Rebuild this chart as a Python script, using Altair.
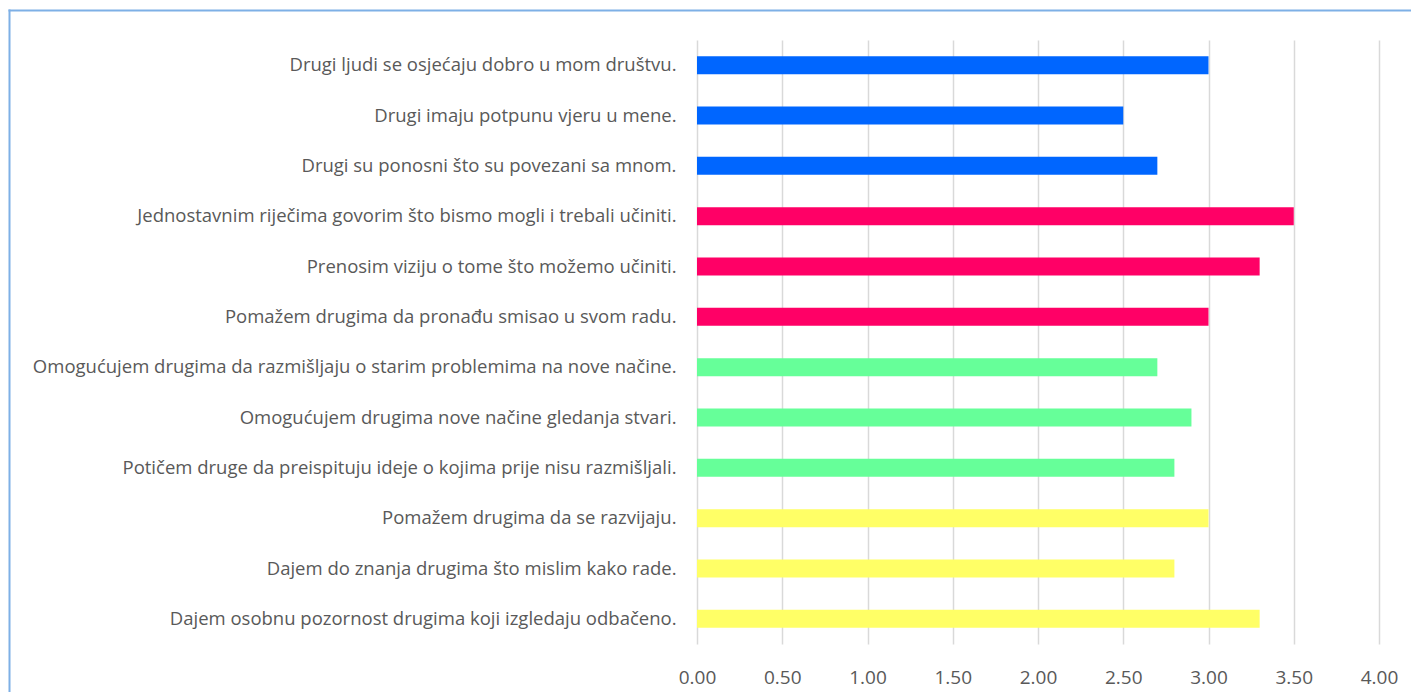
import altair as alt
import pandas as pd

statements = [
    "Drugi ljudi se osjećaju  dobro u mom društvu.",
    "Drugi imaju potpunu vjeru u mene.",
    "Drugi su ponosni što su povezani sa mnom.",
    "Jednostavnim riječima govorim što bismo mogli i trebali  učiniti.",
    "Prenosim viziju o tome što možemo učiniti.",
    "Pomažem drugima da pronađu smisao u svom radu.",
    "Omogućujem drugima da razmišljaju  o starim problemima na nove načine.",
    "Omogućujem drugima nove načine gledanja stvari.",
    "Potičem druge da preispituju ideje o kojima prije nisu razmišljali.",
    "Pomažem drugima da se razvijaju.",
    "Dajem do znanja drugima što mislim kako rade.",
    "Dajem osobnu pozornost drugima koji izgledaju odbačeno.",
]
values = [3.0, 2.5, 2.7, 3.5, 3.3, 3.0, 2.7, 2.9, 2.8, 3.0, 2.8, 3.3]
groups = ["A", "A", "A", "B", "B", "B", "C", "C", "C", "D", "D", "D"]
group_names = ["A", "B", "C", "D"]
group_colors = ["#0066FF", "#FF0066", "#66FF99", "#FFFF66"]

df = pd.DataFrame({"statement": statements, "value": values, "group": groups})

FONT = "Open Sans"
TXT = "#595959"
BORDER = "#7EB0E6"

bars = alt.Chart(df).mark_bar(size=18).encode(
    x=alt.X(
        "value:Q",
        scale=alt.Scale(domain=[0, 4]),
        axis=alt.Axis(
            values=[0, 0.5, 1, 1.5, 2, 2.5, 3, 3.5, 4],
            format=".2f",
            title=None,
            grid=True,
            gridColor="#D9D9D9",
            gridWidth=1.5,
            domain=False,
            ticks=False,
            labelFlush=False,
            labelFont=FONT,
            labelFontSize=19,
            labelColor=TXT,
            labelPadding=24,
        ),
    ),
    y=alt.Y(
        "statement:N",
        sort=statements,
        scale=alt.Scale(paddingInner=0.64, paddingOuter=0.32),
        axis=alt.Axis(
            title=None,
            domain=False,
            ticks=False,
            grid=False,
            labelFont=FONT,
            labelFontSize=18.5,
            labelColor=TXT,
            labelPadding=21,
            labelLimit=800,
        ),
    ),
    color=alt.Color(
        "group:N",
        scale=alt.Scale(domain=group_names, range=group_colors),
        legend=None,
    ),
)

one = alt.Data(values=[{"a": 1}])
border_top = alt.Chart(one).mark_rule(color=BORDER, strokeWidth=2).encode(
    x=alt.value(-688.5),
    x2=alt.value(2000),
    y=alt.value(-29.5),
)
border_left = alt.Chart(one).mark_rule(color=BORDER, strokeWidth=2).encode(
    x=alt.value(-687.5),
    y=alt.value(-30.5),
    y2=alt.value(2000),
)

chart = alt.layer(border_top, border_left, bars).properties(
    width=682,
    height=604,
    autosize=alt.AutoSizeParams(type="none"),
    padding={"left": 689, "top": 32, "right": 32, "bottom": 48},
    background="white",
).configure_view(stroke=None)

chart.save("out.html", embed_options={"renderer": "svg", "actions": False})
